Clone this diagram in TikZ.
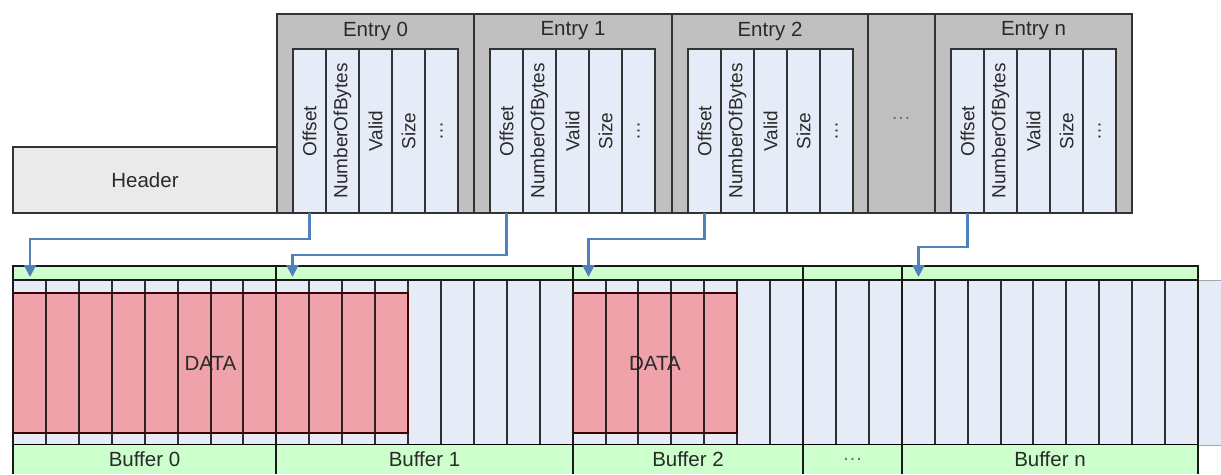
\documentclass[tikz,border=0pt]{standalone}
\usepackage{fontspec}
\setmainfont{Liberation Sans}
\usetikzlibrary{arrows.meta,calc}
\definecolor{entrygray}{HTML}{C0C0C0}
\definecolor{fieldblue}{HTML}{E6ECF7}
\definecolor{headgray}{HTML}{EAEAEA}
\definecolor{bufgreen}{HTML}{CCFFCC}
\definecolor{datared}{HTML}{EFA2A9}
\definecolor{arrowblue}{HTML}{4F81BD}
\definecolor{txt}{HTML}{2A2A2A}
\definecolor{dotgray}{HTML}{707070}
\definecolor{edge}{HTML}{333333}
\begin{document}
\begin{tikzpicture}[x=1pt,y=-1pt,
  box/.style={draw=edge,line width=1.5pt,inner sep=0pt,outer sep=0pt,anchor=north west},
  txtstyle/.style={text=txt,font=\fontsize{20.5}{24}\selectfont,inner sep=0pt},
  fieldbox/.style={box,fill=fieldblue,line width=1.5pt,minimum width=33pt,minimum height=164pt},
  fieldlbl/.style={text=txt,font=\fontsize{19}{22}\selectfont,inner sep=0pt,rotate=90},
  arr/.style={draw=arrowblue,line width=2.3pt,-{Triangle[width=12pt,length=12pt]}},
  cellline/.style={draw=black,draw opacity=0.8,line width=1.8pt},
  divider/.style={draw=black!90,line width=2.2pt},
  stripbox/.style={box,fill=bufgreen,draw=black!90,line width=1.8pt,minimum height=14pt},
  rowbox/.style={fill=bufgreen,inner sep=0pt,outer sep=0pt,anchor=north west,minimum height=29pt,font=\fontsize{20.5}{24}\selectfont},
  databox/.style={box,fill=datared,draw=none,minimum height=140pt},
  datalbl/.style={text=txt,font=\fontsize{20.5}{24}\selectfont,inner sep=0pt}
]
\useasboundingbox (0,0) rectangle (1221,474);

% header
\node[box,fill=headgray,minimum width=264pt,minimum height=66pt,txtstyle,anchor=north west] (header) at (13,147) {Header};

% entries
\node[box,fill=entrygray,minimum width=67pt,minimum height=199pt] (edots) at (868,14) {};
\node[text=dotgray,font=\fontsize{20}{24}\selectfont,inner sep=0pt] (edotslbl) at (901,118) {\ldots};
\foreach \L/\n/\W in {277/0/197, 474/1/198, 672/2/196, 935/n/197} {
  \node[box,fill=entrygray,minimum width=\W pt,minimum height=199pt] (e\n) at (\L,14) {};
  \node[txtstyle] (e\n-title) at (\L+\W/2,31) {Entry \n};
  \foreach \lab [count=\i from 0] in {Offset,NumberOfBytes,Valid,Size,\ldots} {
    \node[fieldbox] (e\n-\i) at (\L+16+33*\i,49) {};
    \node[fieldlbl] (e\n-\i-lbl) at (e\n-\i.center) {\lab};
  }
}

% buffer cells
\fill[fieldblue] (13,280) rectangle (1221,445);
\node[databox,minimum width=395pt] (d0) at (13,293) {};
\node[databox,minimum width=164pt] (d1) at (573,293) {};
\foreach \k in {1,...,35} {
  \pgfmathsetmacro\cx{round(13+\k*32.9167)}
  \draw[cellline] (\cx,280) -- (\cx,445);
}
\draw[draw=black!75!red,line width=1.5pt] (d0.north west) rectangle (d0.south east);
\draw[draw=black!75!red,line width=1.5pt] (d1.north west) rectangle (d1.south east);
\node[datalbl] (d0lbl) at (d0.center) {DATA};
\node[datalbl] (d1lbl) at (d1.center) {DATA};
\draw[cellline,draw opacity=1,line width=1.8pt] (13,445) -- (1198,445);
\draw[draw=gray!70,line width=1pt] (1198,280) -- (1221,280);
\draw[draw=gray!70,line width=1pt] (1198,445) -- (1221,445);

% buffers
\foreach \ka/\kb/\nm/\id/\tc in {0/8/Buffer 0/0/txt, 8/17/Buffer 1/1/txt, 17/24/Buffer 2/2/txt, 24/27/\ldots/d/dotgray, 27/36/Buffer n/n/txt} {
  \pgfmathsetmacro\xa{round(13+\ka*32.9167)}
  \pgfmathsetmacro\xb{round(13+\kb*32.9167)}
  \pgfmathsetmacro\bw{\xb-\xa}
  \node[stripbox,minimum width=\bw pt] (s\id) at (\xa,266) {};
  \node[rowbox,minimum width=\bw pt,text=\tc] (b\id) at (\xa,445) {\nm};
}
\foreach \ka in {0,8,17,24,27,36} {
  \pgfmathsetmacro\cx{round(13+\ka*32.9167)}
  \draw[divider] (\cx,266) -- (\cx,474);
}

% arrows
\coordinate (t0) at (30,277);
\coordinate (t1) at (292.5,277);
\coordinate (t2) at (588.5,277);
\coordinate (tn) at (918.5,277);
\draw[arr] (e0-0.south) -- ++(0,26) -| (t0);
\draw[arr] (e1-0.south) -- ++(0,42) -| (t1);
\draw[arr] (e2-0.south) -- ++(0,26) -| (t2);
\draw[arr] (en-0.south) -- ++(0,34) -| (tn);
\end{tikzpicture}
\end{document}
